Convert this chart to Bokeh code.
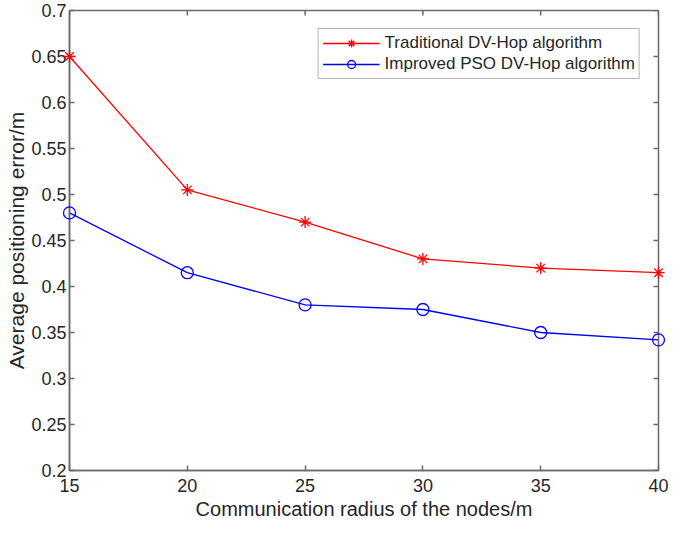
import math
from bokeh.plotting import figure
from bokeh.models import FixedTicker, Legend, LegendItem, Range1d
from bokeh.embed import file_html
from bokeh.resources import INLINE

radius = [15, 20, 25, 30, 35, 40]
traditional = [0.65, 0.505, 0.47, 0.43, 0.42, 0.415]
improved = [0.48, 0.415, 0.38, 0.375, 0.35, 0.342]
x_ticks = [15, 20, 25, 30, 35, 40]
y_ticks = [0.2, 0.25, 0.3, 0.35, 0.4, 0.45, 0.5, 0.55, 0.6, 0.65, 0.7]
y_tick_labels = ["0.2", "0.25", "0.3", "0.35", "0.4", "0.45", "0.5", "0.55", "0.6", "0.65", "0.7"]
series_names = ["Traditional DV-Hop algorithm", "Improved PSO DV-Hop algorithm"]
x_title = "Communication radius of the nodes/m"
y_title = "Average positioning error/m"

FONT = "Liberation Sans"
AX = "#6a6a6a"
TXT = "#262626"

p = figure(width=669, height=523, output_backend="svg", toolbar_location=None,
           x_range=Range1d(x_ticks[0], x_ticks[-1]), y_range=Range1d(y_ticks[0], y_ticks[-1]),
           min_border_left=69, min_border_right=11, min_border_top=10, min_border_bottom=53)
p.xgrid.visible = False
p.ygrid.visible = False
p.outline_line_color = AX
p.outline_line_width = 1.5
p.background_fill_color = "white"
p.border_fill_color = "white"

def style_axis(ax, ticks, overrides=None):
    ax.ticker = FixedTicker(ticks=ticks)
    if overrides:
        ax.major_label_overrides = overrides
    ax.major_tick_in = 5
    ax.major_tick_out = 0
    ax.minor_tick_in = 0
    ax.minor_tick_out = 0
    ax.axis_line_color = AX
    ax.axis_line_width = 1.5
    ax.major_tick_line_color = AX
    ax.major_tick_line_width = 1.5
    ax.major_label_text_font = FONT
    ax.major_label_text_color = TXT
    ax.major_label_text_font_size = "18px"
    ax.axis_label_text_font = FONT
    ax.axis_label_text_font_style = "normal"
    ax.axis_label_text_color = TXT

xa = p.xaxis[0]
ya = p.yaxis[0]
style_axis(xa, x_ticks)
style_axis(ya, y_ticks, {t: s for t, s in zip(y_ticks, y_tick_labels)})
xa.major_label_standoff = 8
ya.major_label_standoff = 3
xa.axis_label = x_title
xa.axis_label_text_font_size = "20px"
xa.axis_label_standoff = 3
ya.axis_label = y_title
ya.axis_label_text_font_size = "21px"
ya.axis_label_standoff = 0

# inward ticks on the top and right edges of the box
p.scatter(x_ticks, [y_ticks[-1]] * len(x_ticks), marker="dash", angle=math.pi / 2,
          size=10, line_color=AX, line_width=1.5)
p.scatter([x_ticks[-1]] * len(y_ticks), y_ticks, marker="dash",
          size=10, line_color=AX, line_width=1.5)

r1 = p.line(radius, traditional, line_color="#ff0000", line_width=1.3)
m1 = p.scatter(radius, traditional, marker="asterisk", size=12, line_color="#ff0000",
               line_width=1.3, level="overlay")
r2 = p.line(radius, improved, line_color="#0000ff", line_width=1.3)
m2 = p.scatter(radius, improved, marker="circle", size=12, line_color="#0000ff",
               fill_color=None, line_width=1.3, level="overlay")

legend = Legend(items=[LegendItem(label=series_names[0], renderers=[r1, m1]),
                       LegendItem(label=series_names[1], renderers=[r2, m2])],
                location="top_right")
legend.margin = 18
legend.padding = 4
legend.spacing = 1
legend.glyph_width = 57
legend.glyph_height = 20
legend.label_height = 20
legend.label_standoff = 5
legend.label_text_font = FONT
legend.label_text_font_size = "17px"
legend.label_text_color = TXT
legend.border_line_color = AX
legend.border_line_width = 1.2
legend.background_fill_color = "white"
legend.background_fill_alpha = 1.0
p.add_layout(legend, "center")

open("out.html", "w").write(file_html(p, INLINE))
